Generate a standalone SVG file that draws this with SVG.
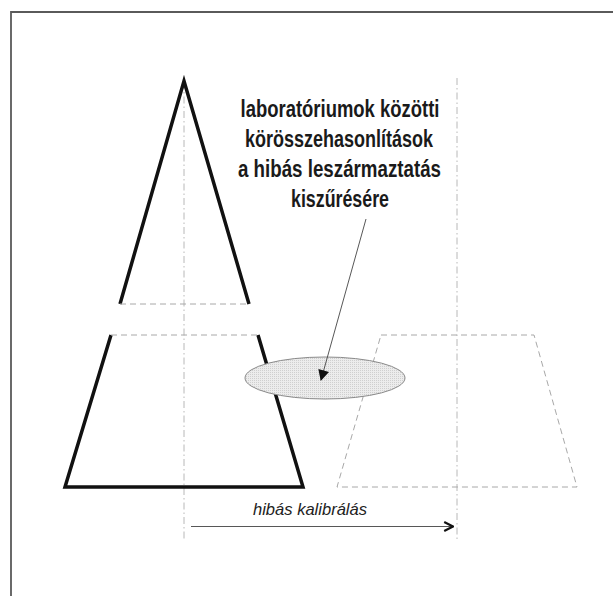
<svg xmlns="http://www.w3.org/2000/svg" width="613" height="596" viewBox="0 0 613 596">
<style>
.frame{fill:none;stroke:#5a5a5a;stroke-width:1.8}
.solid{fill:none;stroke:#111;stroke-width:3.5;stroke-linejoin:miter;stroke-linecap:butt}
.dash{fill:none;stroke:#a8a8a8;stroke-width:1;stroke-dasharray:6 4}
.axis{fill:none;stroke:#b8b8b8;stroke-width:1;stroke-dasharray:7 3 1.5 3}
.thin{fill:none;stroke:#444;stroke-width:0.9}
.bold{font-family:"Liberation Sans Narrow","Liberation Sans",Arial,sans-serif;font-weight:bold;font-size:23px;fill:#1a1a1a}
.ital{font-family:"Liberation Sans",Arial,sans-serif;font-style:italic;font-size:17px;fill:#222}
</style>
<defs>
<pattern id="dots" width="2" height="2" patternUnits="userSpaceOnUse">
<rect width="2" height="2" fill="#ececec"/>
<rect width="1" height="1" fill="#cfcfcf"/>
</pattern>
<marker id="tri" viewBox="0 0 10 10" refX="9" refY="5" markerWidth="12" markerHeight="11" markerUnits="userSpaceOnUse" orient="auto">
<path d="M0,0 L10,5 L0,10 z" fill="#111"/>
</marker>
<marker id="chev" viewBox="0 0 10 10" refX="9" refY="5" markerWidth="11" markerHeight="11" markerUnits="userSpaceOnUse" orient="auto">
<path d="M1,1 L9,5 L1,9" fill="none" stroke="#111" stroke-width="2"/>
</marker>
</defs>
<rect width="613" height="596" fill="#fff"/>
<path class="frame" d="M11,613 V12 H613"/>
<g id="axes">
<line class="axis" x1="184" y1="82" x2="184" y2="541"/>
<line class="axis" x1="457" y1="78" x2="457" y2="541"/>
</g>
<g id="pyramid-top">
<path class="solid" d="M120,304 L184,81 L249,304"/>
<line class="dash" x1="120" y1="304" x2="249" y2="304"/>
</g>
<g id="pyramid-bottom">
<path class="solid" d="M111,335 L65,487 L303,487 L258,335"/>
<line class="dash" x1="111" y1="335" x2="258" y2="335"/>
</g>
<g id="shifted-trapezoid">
<path class="dash" d="M381,335 L534,335 L577,487 L337,487 Z"/>
</g>
<g id="ellipse">
<ellipse cx="325" cy="378" rx="80" ry="21" fill="url(#dots)" stroke="#8a8a8a" stroke-width="1"/>
</g>
<g id="label-top">
<text class="bold" text-anchor="middle" x="340" y="117" textLength="199" lengthAdjust="spacingAndGlyphs">laboratóriumok közötti</text>
<text class="bold" text-anchor="middle" x="339" y="147" textLength="188" lengthAdjust="spacingAndGlyphs">körösszehasonlítások</text>
<text class="bold" text-anchor="middle" x="339.5" y="177" textLength="203" lengthAdjust="spacingAndGlyphs">a hibás leszármaztatás</text>
<text class="bold" text-anchor="middle" x="340" y="207" textLength="98" lengthAdjust="spacingAndGlyphs">kiszűrésére</text>
</g>
<g id="label-bottom">
<text class="ital" x="253" y="515" textLength="114" lengthAdjust="spacingAndGlyphs">hibás kalibrálás</text>
</g>
<g id="connectors">
<line class="thin" x1="366" y1="219" x2="321" y2="380" marker-end="url(#tri)"/>
<line class="thin" x1="191" y1="526.5" x2="453" y2="526.5" marker-end="url(#chev)"/>
</g>
</svg>
